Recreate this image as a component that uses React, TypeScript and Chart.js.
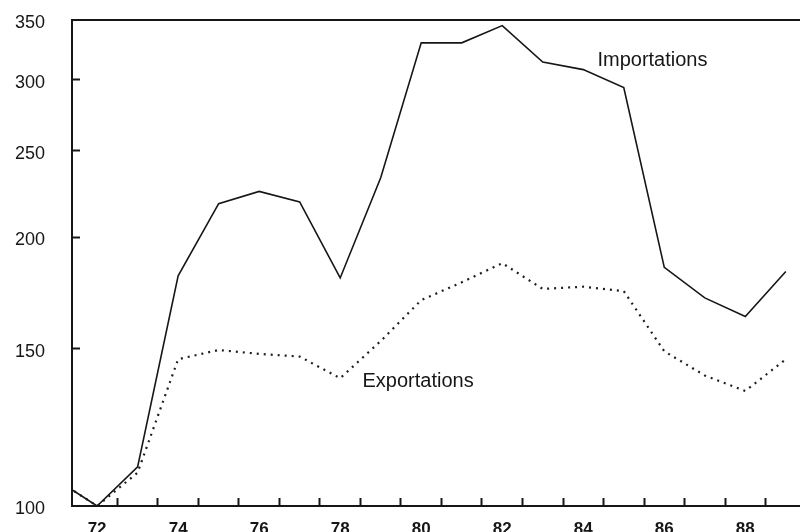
import React, { useEffect, useRef } from "react";
import { Chart, registerables } from "chart.js";

Chart.register(...registerables);

// ---- data ----
const years = [71, 72, 73, 74, 75, 76, 77, 78, 79, 80, 81, 82, 83, 84, 85, 86, 87, 88, 89];
const importations = [107, 100, 110.6, 181, 218, 225, 219, 180, 233, 330, 330, 345, 314, 308, 294, 185, 171, 163, 183];
const exportations = [107, 100, 109, 146, 149.5, 148, 147, 139, 153, 170, 178, 187, 175, 176, 174, 149, 140, 134.5, 146];

const xLabelYears = [72, 74, 76, 78, 80, 82, 84, 86, 88];
const xTickMarks = [72.5, 73.5, 74.5, 75.5, 76.5, 77.5, 78.5, 79.5, 80.5, 81.5, 82.5, 83.5, 84.5, 85.5, 86.5, 87.5, 88.5];
const yTickValues = [100, 150, 200, 250, 300, 350];

const seriesLabels = ["Importations", "Exportations"];
// anchor (year, value) of each series label
const labelAnchors = [
  { x: 84.35, y: 315 },
  { x: 78.55, y: 137.7 },
];

const X_MIN = 71.38;
const X_MAX = 89.35;
const INK = "#161616";

export default function App() {
  const canvasRef = useRef<HTMLCanvasElement | null>(null);

  useEffect(() => {
    const canvas = canvasRef.current;
    if (!canvas) return;

    const labelPlugin = {
      id: "seriesLabels",
      afterDatasetsDraw(chart: any) {
        const { ctx, scales } = chart;
        const xs = scales.x;
        const ys = scales.y;
        ctx.save();
        ctx.font = '20px "Liberation Sans", Arial, sans-serif';
        ctx.fillStyle = INK;
        ctx.textAlign = "left";
        ctx.textBaseline = "middle";
        seriesLabels.forEach((t, i) => {
          ctx.fillText(t, xs.getPixelForValue(labelAnchors[i].x), ys.getPixelForValue(labelAnchors[i].y));
        });
        ctx.restore();
      },
    };

    const chart = new Chart(canvas, {
      type: "line",
      data: {
        datasets: [
          {
            label: "Importations",
            data: years.map((yr, i) => ({ x: yr, y: importations[i] })),
            borderColor: INK,
            borderWidth: 1.6,
            pointRadius: 0,
            tension: 0,
            fill: false,
            clip: 0,
          },
          {
            label: "Exportations",
            data: years.map((yr, i) => ({ x: yr, y: exportations[i] })),
            borderColor: "#1e1e1e",
            borderWidth: 2.2,
            borderDash: [2, 5],
            borderCapStyle: "butt",
            pointRadius: 0,
            tension: 0,
            fill: false,
            clip: 0,
          },
        ],
      },
      options: {
        animation: false,
        responsive: false,
        devicePixelRatio: 1,
        layout: { padding: { left: 0, right: 0, top: 20, bottom: 0 } },
        plugins: {
          legend: { display: false },
          tooltip: { enabled: false },
          title: { display: false },
        },
        scales: {
          x: {
            type: "linear",
            position: "bottom",
            min: X_MIN,
            max: X_MAX,
            afterBuildTicks: (scale: any) => {
              const vals = [...xLabelYears, ...xTickMarks].sort((a, b) => a - b);
              scale.ticks = vals.map((v) => ({ value: v }));
            },
            afterFit: (scale: any) => {
              scale.height = 39;
              scale.paddingLeft = 0;
              scale.paddingRight = 0;
            },
            grid: {
              display: true,
              drawOnChartArea: false,
              drawTicks: true,
              tickLength: -8,
              tickWidth: 2,
              tickColor: (ctx: any) =>
                ctx.tick && xTickMarks.includes(ctx.tick.value) ? INK : "rgba(0,0,0,0)",
            },
            border: { display: true, color: INK, width: 2 },
            ticks: {
              autoSkip: false,
              maxRotation: 0,
              minRotation: 0,
              padding: 21,
              color: INK,
              font: { family: '"Liberation Sans", Arial, sans-serif', size: 17, weight: "bold" },
              callback: (v: any) => (xLabelYears.includes(Number(v)) ? String(v) : ""),
            },
          },
          x2: {
            type: "linear",
            position: "top",
            min: X_MIN,
            max: X_MAX,
            afterFit: (scale: any) => {
              scale.height = 0;
              scale.paddingLeft = 0;
              scale.paddingRight = 0;
            },
            grid: { display: false, drawTicks: false },
            border: { display: true, color: INK, width: 2 },
            ticks: { display: false },
          },
          y: {
            type: "logarithmic",
            position: "left",
            min: 100,
            max: 350,
            afterBuildTicks: (scale: any) => {
              scale.ticks = yTickValues.map((v) => ({ value: v }));
            },
            afterFit: (scale: any) => {
              scale.width = 72;
              scale.paddingTop = 0;
              scale.paddingBottom = 0;
            },
            grid: {
              display: true,
              drawOnChartArea: false,
              drawTicks: true,
              tickLength: -8,
              tickWidth: 2,
              tickColor: (ctx: any) =>
                ctx.tick && ctx.tick.value > 100 && ctx.tick.value < 350 ? INK : "rgba(0,0,0,0)",
            },
            border: { display: true, color: INK, width: 2 },
            ticks: {
              autoSkip: false,
              padding: 35,
              labelOffset: 3,
              color: INK,
              font: { family: '"Liberation Sans", Arial, sans-serif', size: 18 },
              callback: (v: any) => String(v),
            },
          },
        },
      },
      plugins: [labelPlugin],
    } as any);

    return () => {
      chart.destroy();
    };
  }, []);

  return (
    <div
      style={{
        position: "fixed",
        left: 0,
        top: 0,
        width: 800,
        height: 532,
        overflow: "hidden",
        background: "#ffffff",
      }}
    >
      <canvas
        ref={canvasRef}
        width={800}
        height={545}
        style={{ display: "block", width: 800, height: 545 }}
      />
    </div>
  );
}
